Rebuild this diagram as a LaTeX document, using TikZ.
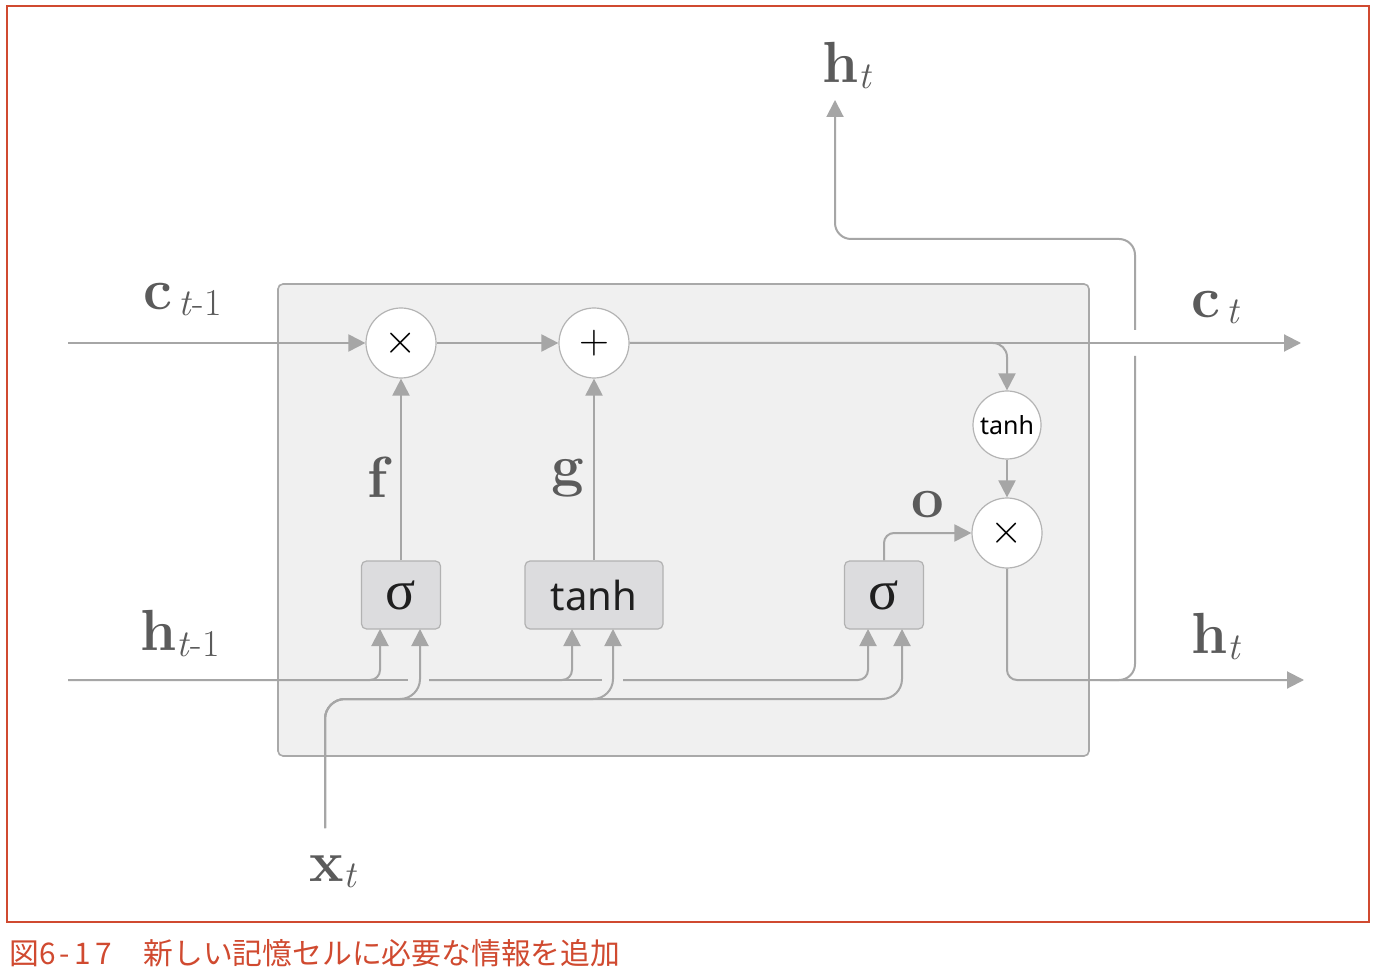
\documentclass[tikz,border=0pt]{standalone}
\usepackage{fontspec}
\newfontfamily\cjk{Noto Sans CJK JP}
\newfontfamily\gsans{Noto Sans}
\newfontfamily\gserif{Liberation Serif}
\usetikzlibrary{arrows.meta}
\definecolor{wirec}{HTML}{A6A6A6}
\definecolor{labc}{HTML}{5B5B5B}
\definecolor{boxfill}{HTML}{F0F0F0}
\definecolor{boxdraw}{HTML}{A9A9A9}
\definecolor{gatefill}{HTML}{DCDCDE}
\definecolor{gatedraw}{HTML}{B2B2B2}
\definecolor{circdraw}{HTML}{B4B4B4}
\definecolor{framec}{HTML}{D04A30}
\newcommand{\vlab}[2]{\textbf{#1}\raisebox{-3pt}{\fontsize{19}{22}\selectfont #2}}
\begin{document}
\begin{tikzpicture}[x=0.5pt,y=-0.5pt,
  wire/.style={draw=wirec,line width=1pt,rounded corners=5pt},
  arr/.style={wire,-{Triangle[length=8.5pt,width=8.5pt]}},
  opcirc/.style={circle,draw=circdraw,line width=0.6pt,fill=white,minimum size=35pt,inner sep=0pt},
  gate/.style={rectangle,rounded corners=2.5pt,draw=gatedraw,line width=0.6pt,fill=gatefill,minimum height=34pt,inner sep=0pt,text=black!88},
  vec/.style={text=labc,font=\fontsize{29}{34}\selectfont,inner sep=0pt,anchor=base west}]
\useasboundingbox (0,0) rectangle (1380,972);
\fill[white] (0,0) rectangle (1380,972);
\draw[framec,line width=0.8pt] (7,6) rectangle (1369,922);
\node[text=framec,font=\cjk\fontsize{14.9}{17}\selectfont,anchor=west,inner sep=0pt] (cap) at (9,953) {図{\addfontfeature{LetterSpace=14}6-17}\hspace{1pt}　新しい記憶セルに必要な情報を追加};
% cell box
\draw[boxdraw,fill=boxfill,line width=0.8pt,rounded corners=2.5pt] (278,284) rectangle (1089,756);
% nodes
\node[opcirc] (mul1) at (401,343) {\fontsize{20}{22}\selectfont$\times$};
\node[opcirc] (add) at (594,343) {\fontsize{21}{22}\selectfont$+$};
\node[opcirc,minimum size=34pt,font=\gsans\fontsize{12.5}{14}\selectfont] (tanhc) at (1007,425) {tanh};
\node[opcirc] (mul2) at (1007,533) {\fontsize{20}{22}\selectfont$\times$};
\node[gate,minimum width=39.5pt,font=\gserif\fontsize{28}{30}\selectfont] (sig1) at (401,595) {σ};
\node[gate,minimum width=69pt,font=\gsans\fontsize{20}{24}\selectfont] (tanhb) at (594,595) {tanh};
\node[gate,minimum width=39.5pt,font=\gserif\fontsize{28}{30}\selectfont] (sig2) at (884,595) {σ};
% coordinates
\coordinate (cin) at (68,343);
\coordinate (cout) at (1301,343);
\coordinate (hin) at (68,680);
\coordinate (hout) at (1304,680);
\coordinate (xin) at (325,828);
\coordinate (htop) at (835,100);
\coordinate (p1a) at (380,629);
\coordinate (p1b) at (420,629);
\coordinate (p2a) at (572,629);
\coordinate (p2b) at (613,629);
\coordinate (p3a) at (868,629);
\coordinate (p3b) at (902,629);
\coordinate (h1end) at (408,680);
\coordinate (h2beg) at (429,680);
\coordinate (h2end) at (602,680);
\coordinate (h3beg) at (623,680);
\coordinate (xr1) at (420,699);
\coordinate (xr2) at (613,699);
\coordinate (xr3) at (902,699);
\coordinate (hbr) at (1100,680);
\coordinate (vup) at (1135,356);
\coordinate (vdn) at (1135,330);
\coordinate (topr) at (835,239);
% c line
\draw[arr] (cin) -- (mul1.west);
\draw[arr] (mul1.east) -- (add.west);
\draw[arr] (add.east) -- (cout);
\draw[arr,rounded corners=7pt] (add.east) -| (tanhc.north);
\draw[arr] (tanhc.south) -- (mul2.north);
% gates to ops
\draw[arr] (sig1.north) -- (mul1.south);
\draw[arr] (tanhb.north) -- (add.south);
\draw[arr] (sig2.north) |- (mul2.west);
% output h
\draw[arr] (mul2.south) |- (hout);
\draw[wire,rounded corners=8pt] (hbr) -| (vup);
\draw[arr,rounded corners=8pt] (vdn) |- (topr) -- (htop);
% h_{t-1} line
\draw[wire] (hin) -- (h1end);
\draw[arr] (hin) -| (p1a);
\draw[wire] (h2beg) -- (h2end);
\draw[arr] (h2beg) -| (p2a);
\draw[arr] (h3beg) -| (p3a);
% x_t line
\draw[arr,rounded corners=10pt] (xin) |- (xr1) -- (p1b);
\draw[arr,rounded corners=10pt] (xin) |- (xr2) -- (p2b);
\draw[arr,rounded corners=10pt] (xin) |- (xr3) -- (p3b);
% labels
\node[vec] (lcin) at (143,310) {\vlab{c}{\,\textit{t}-1}};
\node[vec] (lhin) at (140,650) {\vlab{h}{\textit{t}-1}};
\node[vec] (lcout) at (1191,318) {\vlab{c}{\,\textit{t}}};
\node[vec] (lhout) at (1191,653) {\vlab{h}{\textit{t}}};
\node[vec] (lhtop) at (822,83) {\vlab{h}{\textit{t}}};
\node[vec] (lxt) at (309,881) {\vlab{x}{\textit{t}}};
\node[vec] (lf) at (367,497) {\textbf{f}};
\node[vec] (lg) at (551,486) {\textbf{g}};
\node[vec] (lo) at (911,517) {\textbf{o}};
\end{tikzpicture}
\end{document}
